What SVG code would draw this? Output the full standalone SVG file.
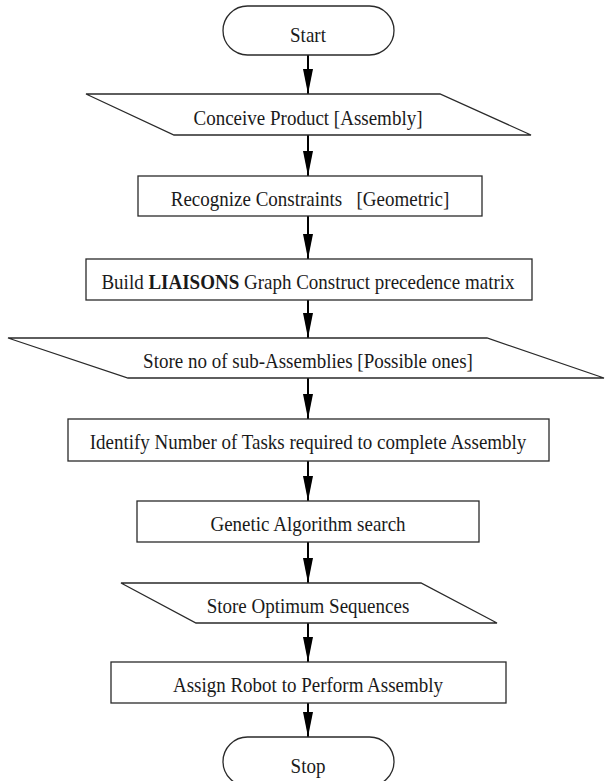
<svg xmlns="http://www.w3.org/2000/svg" width="605" height="781" viewBox="0 0 605 781">
<style>
.shape{fill:#fff;stroke:#2a2a2a;stroke-width:1.3}
.lbl{font-family:"Liberation Serif","Times New Roman",serif;font-size:19px;fill:#1a1a1a;text-anchor:middle;white-space:pre}
.conn{stroke:#000;stroke-width:2;fill:none;marker-end:url(#ah)}
</style>
<defs>
<marker id="ah" markerUnits="userSpaceOnUse" markerWidth="26" markerHeight="10" refX="25" refY="5" orient="auto">
<path d="M0,0 L25,5 L0,10 z" fill="#000"/>
</marker>
</defs>
<rect width="605" height="781" fill="#fff"/>
<g id="connectors">
<line class="conn" x1="308" y1="55" x2="308" y2="94"/>
<line class="conn" x1="308" y1="135" x2="308" y2="176"/>
<line class="conn" x1="308" y1="216" x2="308" y2="259"/>
<line class="conn" x1="308" y1="300" x2="308" y2="338"/>
<line class="conn" x1="308" y1="378" x2="308" y2="419"/>
<line class="conn" x1="308" y1="461" x2="308" y2="501"/>
<line class="conn" x1="308" y1="542" x2="308" y2="583"/>
<line class="conn" x1="308" y1="623" x2="308" y2="662"/>
<line class="conn" x1="308" y1="703" x2="308" y2="737"/>
</g>
<g id="start">
<rect class="shape" x="223" y="6" width="171" height="49" rx="24.5" ry="24.5"/>
<text class="lbl" transform="translate(308,42) scale(1,1.1)">Start</text>
</g>
<g id="conceive">
<polygon class="shape" points="86,94 440,94 531,135 174,135"/>
<text class="lbl" transform="translate(308,125) scale(1,1.1)">Conceive Product [Assembly]</text>
</g>
<g id="recognize">
<rect class="shape" x="138" y="176" width="344" height="40"/>
<text class="lbl" transform="translate(310,206) scale(1,1.1)">Recognize Constraints   [Geometric]</text>
</g>
<g id="build">
<rect class="shape" x="86" y="259" width="446" height="41"/>
<text class="lbl" transform="translate(308,289) scale(1,1.1)">Build <tspan font-weight="bold">LIAISONS</tspan> Graph Construct precedence matrix</text>
</g>
<g id="store-sub">
<polygon class="shape" points="8,338 487,338 604,378 128,378"/>
<text class="lbl" transform="translate(308,368) scale(1,1.1)">Store no of sub-Assemblies [Possible ones]</text>
</g>
<g id="identify">
<rect class="shape" x="68" y="419" width="481" height="42"/>
<text class="lbl" transform="translate(308,449) scale(1,1.1)">Identify Number of Tasks required to complete Assembly</text>
</g>
<g id="genetic">
<rect class="shape" x="137" y="501" width="342" height="41"/>
<text class="lbl" transform="translate(308,531) scale(1,1.1)">Genetic Algorithm search</text>
</g>
<g id="store-opt">
<polygon class="shape" points="121,583 421,583 497,623 196,623"/>
<text class="lbl" transform="translate(308,613) scale(1,1.1)">Store Optimum Sequences</text>
</g>
<g id="assign">
<rect class="shape" x="111" y="662" width="395" height="41"/>
<text class="lbl" transform="translate(308,692) scale(1,1.1)">Assign Robot to Perform Assembly</text>
</g>
<g id="stop">
<rect class="shape" x="223" y="737" width="171" height="49" rx="24.5" ry="24.5"/>
<text class="lbl" transform="translate(308,773) scale(1,1.1)">Stop</text>
</g>
</svg>
